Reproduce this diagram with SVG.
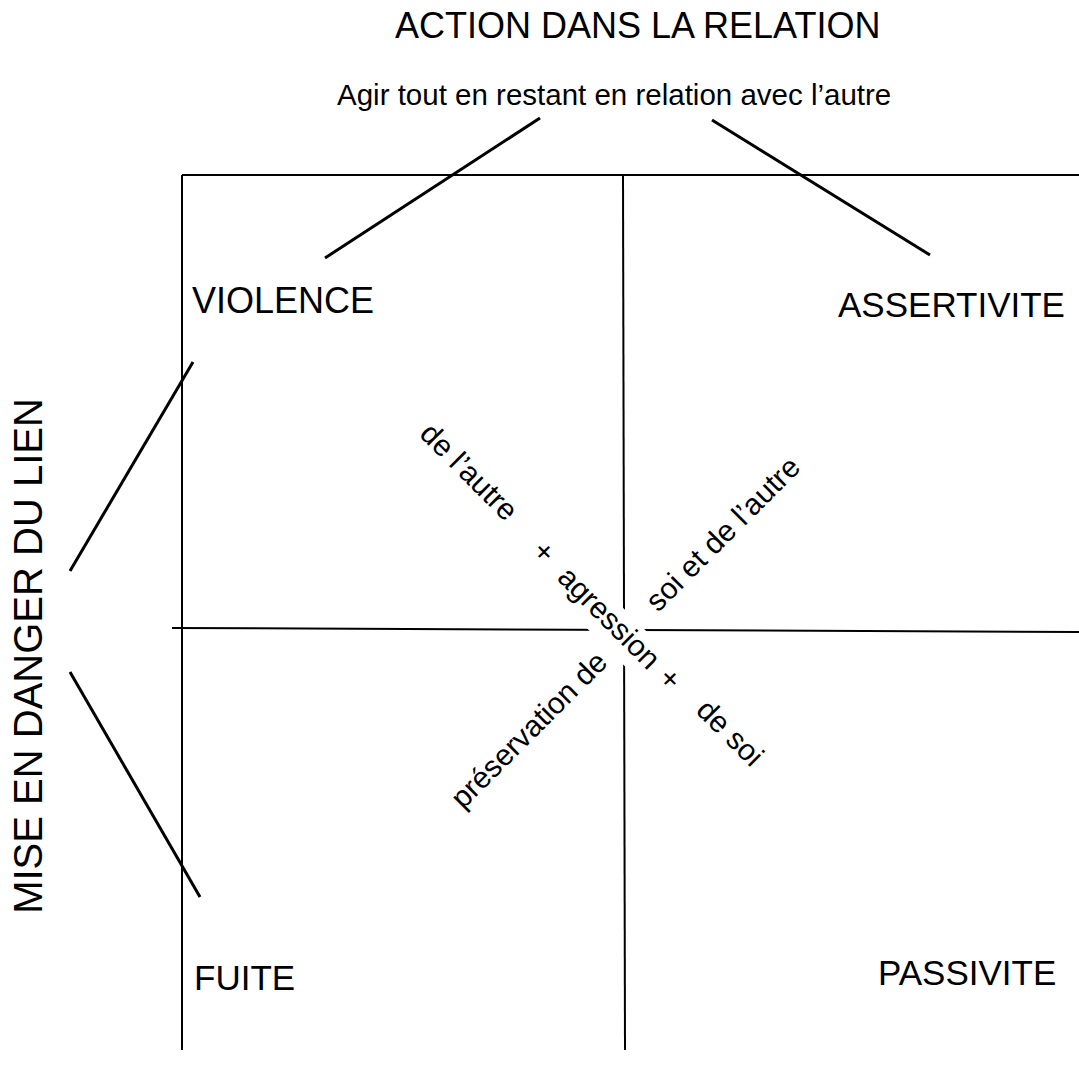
<svg xmlns="http://www.w3.org/2000/svg" width="1079" height="1077" viewBox="0 0 1079 1077">
  <style>
    text { font-family: "Liberation Sans", Arial, Helvetica, sans-serif; fill: #000; }
    .big { font-size: 36px; }
    .lbl { font-size: 35px; }
    .sub { font-size: 29.5px; }
    .diag { font-size: 30px; }
    .frame { stroke: #000; stroke-width: 2; fill: none; }
    .conn { stroke: #000; stroke-width: 3; fill: none; stroke-linecap: butt; }
  </style>
  <rect x="0" y="0" width="1079" height="1077" fill="#fff"/>

  <g id="frame">
    <line class="frame" x1="182" y1="175" x2="1079" y2="175"/>
    <line class="frame" x1="182" y1="175" x2="182" y2="1050"/>
    <line class="frame" x1="623" y1="175" x2="625" y2="1050"/>
    <line class="frame" x1="172" y1="628" x2="1079" y2="632"/>
  </g>

  <g id="connectors">
    <line class="conn" x1="540" y1="118" x2="325" y2="258"/>
    <line class="conn" x1="712" y1="120" x2="930" y2="255"/>
    <line class="conn" x1="70" y1="571" x2="193" y2="362"/>
    <line class="conn" x1="70" y1="672" x2="200" y2="897"/>
  </g>

  <g id="title">
    <text class="big" x="395" y="38">ACTION DANS LA RELATION</text>
  </g>
  <g id="subtitle">
    <text class="sub" x="337" y="105">Agir tout en restant en relation avec l’autre</text>
  </g>
  <g id="axis-left">
    <text class="big" style="font-size:40px" text-anchor="middle" transform="translate(42,656) rotate(-90)">MISE EN DANGER DU LIEN</text>
  </g>
  <g id="violence">
    <text class="lbl" style="font-size:36px" x="192" y="313">VIOLENCE</text>
  </g>
  <g id="assertivite">
    <text class="lbl" x="838" y="317">ASSERTIVITE</text>
  </g>
  <g id="fuite">
    <text class="lbl" x="194" y="990">FUITE</text>
  </g>
  <g id="passivite">
    <text class="lbl" x="878" y="985">PASSIVITE</text>
  </g>

  <g id="diag-down">
    <text class="diag" text-anchor="middle" transform="translate(462,479) rotate(45)">de l’autre</text>
    <text class="diag" text-anchor="middle" transform="translate(537,559) rotate(45)">+</text>
    <g transform="translate(602,625) rotate(45)">
      <rect x="-68" y="-27" width="136" height="40" fill="#fff"/>
      <text class="diag" text-anchor="middle" x="0" y="0">agression</text>
    </g>
    <text class="diag" text-anchor="middle" transform="translate(663,686) rotate(45)">+</text>
    <text class="diag" text-anchor="middle" transform="translate(723,740) rotate(45)">de soi</text>
  </g>
  <g id="diag-up">
    <text class="diag" text-anchor="middle" transform="translate(536,737) rotate(-45)">préservation de</text>
    <text class="diag" text-anchor="middle" transform="translate(730,541) rotate(-45)">soi et de l’autre</text>
  </g>
</svg>
